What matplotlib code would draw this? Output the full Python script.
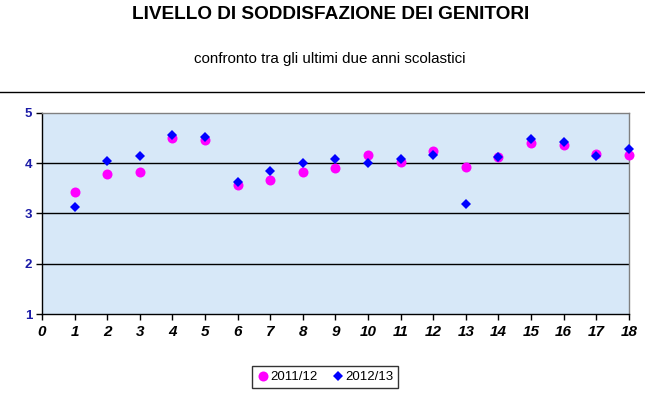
import matplotlib
matplotlib.use('Agg')
import matplotlib.pyplot as plt
from matplotlib.lines import Line2D

plt.rcParams['font.family'] = ['Liberation Sans', 'DejaVu Sans']

# dati
domande = list(range(1, 19))
anno_2011_12 = [3.42, 3.78, 3.83, 4.50, 4.46, 3.56, 3.67, 3.83, 3.91,
                4.16, 4.03, 4.23, 3.93, 4.11, 4.40, 4.36, 4.18, 4.15]
anno_2012_13 = [3.12, 4.05, 4.13, 4.56, 4.52, 3.62, 3.84, 4.01, 4.07,
                4.01, 4.07, 4.15, 3.18, 4.12, 4.48, 4.41, 4.14, 4.27]
serie = ['2011/12', '2012/13']

fig = plt.figure(figsize=(6.45, 3.94), dpi=100)
ax = fig.add_axes([0.0651, 0.203, 0.9099, 0.511])

ax.set_facecolor('#d7e8f8')
ax.plot(domande, anno_2011_12, 'o', color='#ff00ff', markersize=7.2,
        markeredgewidth=0, label=serie[0], clip_on=False, zorder=3)
ax.plot(domande, anno_2012_13, 'D', color='#0000ff', markersize=5.6,
        markeredgewidth=0, label=serie[1], clip_on=False, zorder=4)

ax.set_xlim(0, 18)
ax.set_ylim(1, 5)
ax.set_xticks(range(0, 19))
ax.set_yticks([1, 2, 3, 4, 5])
for y in [2, 3, 4]:
    ax.axhline(y, color='black', linewidth=1, zorder=2)

for side in ['top', 'right']:
    ax.spines[side].set_color('#808080')
    ax.spines[side].set_linewidth(1)
for side in ['left', 'bottom']:
    ax.spines[side].set_color('black')
    ax.spines[side].set_linewidth(1)

ax.tick_params(axis='x', direction='out', length=4, width=1, pad=4)
ax.tick_params(axis='y', direction='out', length=4, width=1, pad=3)
for lab in ax.get_xticklabels():
    lab.set_fontsize(11)
    lab.set_fontweight('bold')
    lab.set_fontstyle('italic')
for lab in ax.get_yticklabels():
    lab.set_fontsize(9.5)
    lab.set_fontweight('bold')
    lab.set_color('#1a1aa6')

fig.text(0.512, 0.962, 'LIVELLO DI SODDISFAZIONE DEI GENITORI', ha='center',
         va='center', fontsize=13.7, fontweight='bold')
fig.text(0.512, 0.85, 'confronto tra gli ultimi due anni scolastici', ha='center',
         va='center', fontsize=10.9)

fig.add_artist(Line2D([0, 1], [0.7665, 0.7665], color='black', linewidth=1,
                      transform=fig.transFigure))

leg = fig.legend(loc='center', bbox_to_anchor=(0.504, 0.043), ncol=2,
                 frameon=True, fancybox=False, fontsize=9.5, handletextpad=0.1,
                 columnspacing=1.0, handlelength=1.0, borderpad=0.35)
leg.get_frame().set_edgecolor('black')
leg.get_frame().set_linewidth(1)

fig.savefig('out.png', dpi=100)
